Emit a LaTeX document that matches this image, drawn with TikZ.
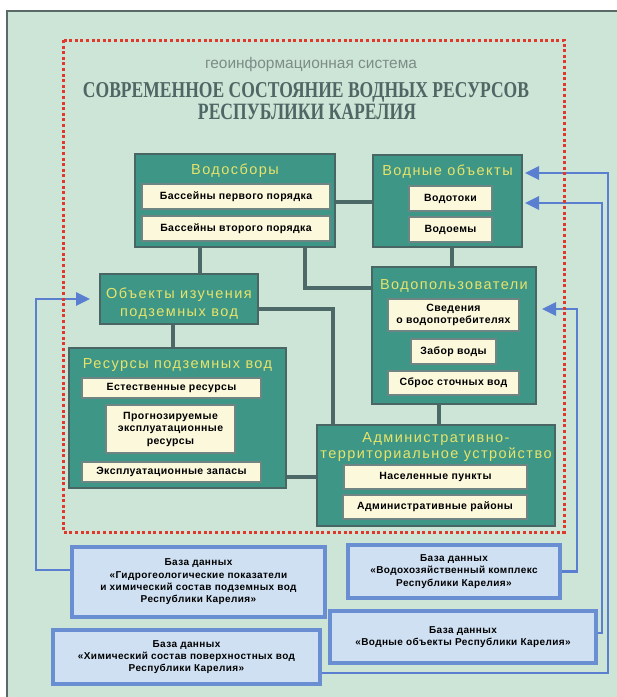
\documentclass[tikz,border=0pt]{standalone}
\usepackage{fontspec}
\setmainfont{Liberation Sans}
\newfontfamily\ttlfont[LetterSpace=10]{Liberation Sans}
\newfontfamily\bxfont[LetterSpace=4]{Liberation Sans}
\newfontfamily\serfont{Liberation Serif}
\usetikzlibrary{arrows.meta}
\definecolor{bgc}{HTML}{CDE5D6}
\definecolor{tealbox}{HTML}{3E9786}
\definecolor{tborder}{HTML}{4A6664}
\definecolor{connc}{HTML}{4C6867}
\definecolor{ttlyel}{HTML}{E8E36A}
\definecolor{creamc}{HTML}{FBF8DC}
\definecolor{dbfill}{HTML}{CFE0F3}
\definecolor{dbline}{HTML}{6A8ED2}
\definecolor{arrc}{HTML}{5A7FD0}
\definecolor{redd}{HTML}{E0392B}
\definecolor{headc}{HTML}{4E6664}
\definecolor{subc}{HTML}{7D8C88}
\definecolor{framec}{HTML}{5A6A68}
\tikzset{
  tbox/.style={draw=tborder, line width=2pt, fill=tealbox, inner sep=0pt},
  ibox/.style={draw=tborder!80, line width=1.2pt, fill=creamc, inner sep=0pt, align=center,
    font=\bxfont\bfseries\fontsize{10.5}{12.5}\selectfont},
  dbbox/.style={draw=dbline, line width=3.6pt, fill=dbfill, inner sep=0pt, align=center,
    font=\bxfont\bfseries\fontsize{10}{12.3}\selectfont},
  ttl/.style={text=ttlyel, anchor=base, inner sep=0pt, font=\ttlfont\fontsize{14.5}{17}\selectfont},
  conn/.style={draw=connc, line width=3.3pt},
  bconn/.style={draw=arrc, line width=2.8pt},
  barrow/.style={bconn, -{Triangle[length=14pt,width=13pt]}},
}
\begin{document}
\begin{tikzpicture}[x=1pt, y=-1pt]
\useasboundingbox (0,0) rectangle (617,697);
\fill[white] (0,0) rectangle (617,697);
\fill[bgc] (7,11) rectangle (617,697);
\draw[framec, line width=1.5pt] (617,11) -- (7,11) -- (7,697);

% titles
\node[anchor=base, inner sep=0pt, text=subc] (sub) at (311,68)
  {\resizebox{212pt}{!}{геоинформационная система}};
\node[anchor=base, inner sep=0pt, text=headc] (t1) at (306,97)
  {\resizebox{446pt}{15pt}{\serfont\bfseries СОВРЕМЕННОЕ СОСТОЯНИЕ ВОДНЫХ РЕСУРСОВ}};
\node[anchor=base, inner sep=0pt, text=headc] (t2) at (307,119)
  {\resizebox{218pt}{15.5pt}{\serfont\bfseries РЕСПУБЛИКИ КАРЕЛИЯ}};

% teal boxes
\node[tbox, minimum width=200pt, minimum height=93pt] (wsb) at (235,200.5) {};
\node[tbox, minimum width=149pt, minimum height=92pt] (wob) at (447.5,201) {};
\node[tbox, minimum width=158pt, minimum height=50pt] (obj) at (179,299) {};
\node[tbox, minimum width=164pt, minimum height=137pt] (wpz) at (454,335.5) {};
\node[tbox, minimum width=217pt, minimum height=140pt] (res) at (177.5,418) {};
\node[tbox, minimum width=238pt, minimum height=101pt] (adm) at (436,475.5) {};

% teal titles
\node[ttl] (wsbt) at (235,174) {Водосборы};
\node[ttl] (wobt) at (447.5,175) {Водные объекты};
\node[ttl] (objt1) at (179,298) {Объекты изучения};
\node[ttl] (objt2) at (179,316) {подземных вод};
\node[ttl] (wpzt) at (454,289) {Водопользователи};
\node[ttl] (rest) at (177.5,368) {Ресурсы подземных вод};
\node[ttl] (admt1) at (436,442) {Административно-};
\node[ttl] (admt2) at (436,458) {территориальное устройство};

% inner boxes
\node[ibox, minimum width=188pt, minimum height=25pt] (b1) at (236,196.5) {Бассейны первого порядка};
\node[ibox, minimum width=188pt, minimum height=25pt] (b2) at (236,228.5) {Бассейны второго порядка};
\node[ibox, minimum width=83pt, minimum height=25pt] (w1) at (450.5,198.5) {Водотоки};
\node[ibox, minimum width=83pt, minimum height=25pt] (w2) at (450.5,229.5) {Водоемы};
\node[ibox, minimum width=131pt, minimum height=32pt] (p1) at (453.5,315) {Сведения\\о водопотребителях};
\node[ibox, minimum width=85pt, minimum height=25pt] (p2) at (453.5,351.5) {Забор воды};
\node[ibox, minimum width=131pt, minimum height=24pt] (p3) at (453.5,383) {Сброс сточных вод};
\node[ibox, minimum width=179pt, minimum height=20pt] (r1) at (171.5,388) {Естественные ресурсы};
\node[ibox, minimum width=129pt, minimum height=48pt] (r2) at (170.5,429) {Прогнозируемые\\эксплуатационные\\ресурсы};
\node[ibox, minimum width=179pt, minimum height=20pt] (r3) at (171.5,472) {Эксплуатационные запасы};
\node[ibox, minimum width=183pt, minimum height=24pt] (a1) at (435.5,477) {Населенные пункты};
\node[ibox, minimum width=184pt, minimum height=24pt] (a2) at (435,507) {Административные районы};

% dark connectors
\draw[conn] (wsb.east |- 0,202) -- (wob.west |- 0,202);
\draw[conn] ([xshift=-35pt]wsb.south) -- ([xshift=21pt]obj.north);
\draw[conn] ([xshift=70pt]wsb.south) |- ([yshift=47.5pt]wpz.west);
\draw[conn] ([xshift=4.5pt]wob.south) -- ([xshift=4.5pt]wob.south |- wpz.north);
\draw[conn] ([xshift=-6pt]obj.south) -- ([xshift=-6pt]obj.south |- res.north);
\draw[conn] ([yshift=-10pt]obj.east) -| ([xshift=-103pt]adm.north);
\draw[conn] ([xshift=-15pt]wpz.south) -- ([xshift=-15pt]wpz.south |- adm.north);
\draw[conn] ([yshift=-59pt]res.east) -- ([yshift=-59pt]res.east -| adm.west);

% database boxes
\node[dbbox, minimum width=253pt, minimum height=70pt] (db1) at (198.5,582)
  {База данных\\«Гидрогеологические показатели\\и химический состав подземных вод\\Республики Карелия»};
\node[dbbox, minimum width=267pt, minimum height=54pt] (db2) at (186.5,657)
  {База данных\\«Химический состав поверхностных вод\\Республики Карелия»};
\node[dbbox, minimum width=212pt, minimum height=53pt] (db3) at (454,571.5)
  {База данных\\«Водохозяйственный комплекс\\Республики Карелия»};
\node[dbbox, minimum width=266pt, minimum height=52pt] (db4) at (463,637)
  {База данных\\«Водные объекты Республики Карелия»};

% blue connectors
\coordinate (L1) at (36,299);
\coordinate (R1) at (608,400);
\coordinate (R2) at (602,400);
\coordinate (R3) at (577,400);
\draw[barrow, shorten >=9pt] ([yshift=12pt]db1.west) -| (L1) -- (obj.west);
\draw[barrow, shorten >=2pt] ([yshift=-16pt]db2.east) -| (R1) |- ([yshift=28pt]wob.east);
\draw[barrow, shorten >=2pt] ([yshift=4pt]db4.east) -| (R2) |- ([yshift=-2pt]wob.east);
\draw[barrow, shorten >=5pt] (db3.east) -| (R3) |- ([yshift=26.5pt]wpz.east);

% red dotted frame
\draw[redd, line width=3pt, dash pattern=on 3pt off 2.6pt] (63,40) rectangle (564,532);
\end{tikzpicture}
\end{document}
